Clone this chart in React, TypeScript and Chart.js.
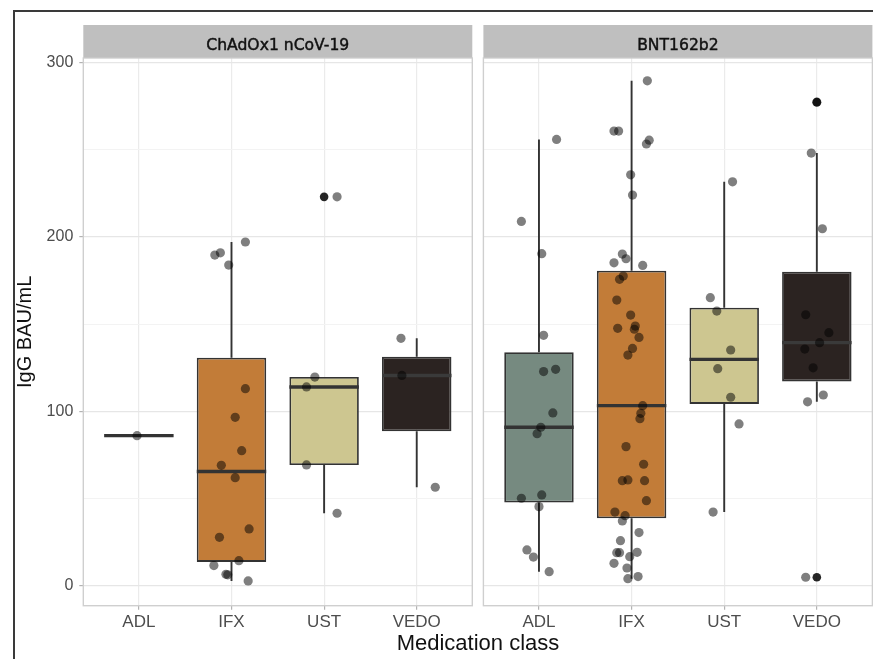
import React, { useEffect, useRef } from "react";
import { Chart, registerables } from "chart.js";

Chart.register(...registerables);

// ---------- data ----------
const categories = ["ADL", "IFX", "UST", "VEDO"];
const panelTitles = ["ChAdOx1 nCoV-19", "BNT162b2"];
const boxColors = ["#768a80", "#c27c38", "#cdc690", "#2b2321"];
const yTickValues = [0, 50, 100, 150, 200, 250, 300];
const yMin = -11.5;
const yMax = 302.5;
const yTitle = "IgG BAU/mL";
const xTitle = "Medication class";

// ChAdOx1 nCoV-19 – box statistics (ADL, IFX, UST, VEDO)
const chadQ1 = [86, 13.6, 69.2, 88.5];
const chadMedian = [86, 65.4, 113.9, 120.5];
const chadQ3 = [86, 130.7, 119.6, 131.2];
const chadLow = [86, 2.7, 41.5, 56.4];
const chadHigh = [86, 197, 119.6, 141.8];
const chadOutlierCat = [2];
const chadOutlierVal = [222.9];

// ChAdOx1 nCoV-19 – individual values and jitter offsets
const chadADL = [86];
const chadADLJit = [-0.02];
const chadIFX = [189.5, 190.8, 183.8, 197, 112.9, 96.5, 77.4, 69, 61.9, 32.5, 27.7, 14.3, 11.5, 6.5, 6.2, 2.7];
const chadIFXJit = [-0.18, -0.12, -0.03, 0.15, 0.15, 0.04, 0.11, -0.11, 0.04, 0.19, -0.13, 0.08, -0.19, -0.06, -0.04, 0.18];
const chadUST = [119.6, 113.9, 69.2, 41.5, 222.9];
const chadUSTJit = [-0.1, -0.19, -0.19, 0.14, 0.14];
const chadVEDO = [141.8, 120.5, 56.4];
const chadVEDOJit = [-0.17, -0.16, 0.2];

// BNT162b2 – box statistics
const bntQ1 = [47.7, 38.6, 104.2, 117.1];
const bntMedian = [90.8, 103.2, 129.7, 139.3];
const bntQ3 = [133.8, 180.5, 159.3, 180.0];
const bntLow = [8.0, 4.0, 42.2, 105.4];
const bntHigh = [255.8, 289.4, 231.5, 248.0];
const bntOutlierCat = [3, 3];
const bntOutlierVal = [277.2, 4.8];

// BNT162b2 – individual values and jitter offsets
const bntADL = [255.8, 208.8, 190.3, 143.5, 122.7, 124, 99, 90.8, 87.1, 50.1, 52, 45.3, 20.5, 16.4, 8];
const bntADLJit = [0.19, -0.19, 0.03, 0.05, 0.05, 0.18, 0.15, 0.02, -0.02, -0.19, 0.03, 0.0, -0.13, -0.06, 0.11];
const bntIFX = [289.4, 260.6, 260.6, 255.4, 253.2, 235.5, 223.9, 190.1, 187.4, 185.1, 183.6, 177.5, 175.6, 163.7, 155.1, 148.8, 147, 147.5, 142.3, 136, 132.2, 103.2, 98.8, 95.7, 79.7, 69.6, 60.2, 60.6, 60.2, 48.7, 42.2, 40.1, 37.1, 30.4, 25.8, 18.9, 18.9, 19.1, 16.6, 12.8, 10.1, 4.0, 5.2];
const bntIFXJit = [0.17, -0.19, -0.14, 0.19, 0.16, -0.01, 0.01, -0.1, -0.06, -0.19, 0.12, -0.09, -0.13, -0.16, -0.01, 0.04, 0.03, -0.15, 0.08, 0.01, -0.04, 0.12, 0.1, 0.09, -0.06, 0.13, -0.1, -0.04, 0.14, 0.16, -0.18, -0.07, -0.1, 0.08, -0.12, -0.16, -0.13, 0.06, -0.02, -0.19, -0.05, -0.04, 0.07];
const bntUST = [231.5, 165.1, 157.4, 135.1, 124.4, 108, 92.7, 42.2];
const bntUSTJit = [0.09, -0.15, -0.08, 0.07, -0.07, 0.07, 0.16, -0.12];
const bntVEDO = [277.2, 248, 204.6, 155.3, 145, 139.3, 135.6, 124.9, 109.3, 105.4, 4.8];
const bntVEDOJit = [0.0, -0.06, 0.06, -0.12, 0.13, 0.03, -0.13, -0.04, 0.07, -0.1, -0.12];

// ---------- helpers ----------
type Panel = {
  title: string;
  q1: number[];
  median: number[];
  q3: number[];
  low: number[];
  high: number[];
  outCat: number[];
  outVal: number[];
  groups: { values: number[]; jitter: number[] }[];
};

const panels: Panel[] = [
  {
    title: panelTitles[0],
    q1: chadQ1, median: chadMedian, q3: chadQ3, low: chadLow, high: chadHigh,
    outCat: chadOutlierCat, outVal: chadOutlierVal,
    groups: [
      { values: chadADL, jitter: chadADLJit },
      { values: chadIFX, jitter: chadIFXJit },
      { values: chadUST, jitter: chadUSTJit },
      { values: chadVEDO, jitter: chadVEDOJit },
    ],
  },
  {
    title: panelTitles[1],
    q1: bntQ1, median: bntMedian, q3: bntQ3, low: bntLow, high: bntHigh,
    outCat: bntOutlierCat, outVal: bntOutlierVal,
    groups: [
      { values: bntADL, jitter: bntADLJit },
      { values: bntIFX, jitter: bntIFXJit },
      { values: bntUST, jitter: bntUSTJit },
      { values: bntVEDO, jitter: bntVEDOJit },
    ],
  },
];

const TICK_FONT = "'Liberation Sans', Arial, sans-serif";
const STRIP_TOP = 25;
const STRIP_BOTTOM = 57.7;
const LINE = "#333333";

function makeConfig(p: Panel, isLeft: boolean, canvasW: number, canvasH: number) {
  const jitterData: { x: number; y: number }[] = [];
  p.groups.forEach((g, ci) => {
    g.values.forEach((v, k) => jitterData.push({ x: ci + 1 + g.jitter[k], y: v }));
  });
  const outData = p.outVal.map((v, k) => ({ x: p.outCat[k] + 1, y: v }));
  const boxData = categories.map((_, i) => ({ x: i + 1, y: [p.q1[i], p.q3[i]] }));

  const plugin = {
    id: "boxExtras",
    beforeDatasetsDraw(chart: any) {
      const { ctx, chartArea } = chart;
      const xs = chart.scales.x;
      const ys = chart.scales.y;
      ctx.save();
      ctx.beginPath();
      ctx.rect(chartArea.left, chartArea.top, chartArea.right - chartArea.left, chartArea.bottom - chartArea.top);
      ctx.clip();
      ctx.strokeStyle = LINE;
      ctx.lineWidth = 1.9;
      categories.forEach((_, i) => {
        const x = xs.getPixelForValue(i + 1);
        ctx.beginPath();
        ctx.moveTo(x, ys.getPixelForValue(p.q3[i]));
        ctx.lineTo(x, ys.getPixelForValue(p.high[i]));
        ctx.moveTo(x, ys.getPixelForValue(p.q1[i]));
        ctx.lineTo(x, ys.getPixelForValue(p.low[i]));
        ctx.stroke();
      });
      ctx.restore();
    },
    afterDatasetDraw(chart: any, args: any) {
      if (args.meta.type !== "bar") return;
      const { ctx } = chart;
      const ys = chart.scales.y;
      ctx.save();
      ctx.lineWidth = 3.4;
      ctx.lineCap = "butt";
      args.meta.data.forEach((el: any, i: number) => {
        const { x, width } = el.getProps(["x", "width"], true);
        const y = ys.getPixelForValue(p.median[i]);
        ctx.strokeStyle = i === 3 ? "#3a3a3a" : LINE;
        ctx.beginPath();
        ctx.moveTo(x - width / 2, y);
        ctx.lineTo(x + width / 2, y);
        ctx.stroke();
      });
      ctx.restore();
    },
    afterDraw(chart: any) {
      const { ctx, chartArea } = chart;
      ctx.save();
      // panel border
      ctx.strokeStyle = "#cfcfcf";
      ctx.lineWidth = 1.4;
      ctx.strokeRect(chartArea.left, chartArea.top, chartArea.right - chartArea.left, chartArea.bottom - chartArea.top);
      // strip
      ctx.fillStyle = "#bfbfbf";
      ctx.fillRect(chartArea.left, STRIP_TOP, chartArea.right - chartArea.left, STRIP_BOTTOM - STRIP_TOP);
      ctx.fillStyle = "#111111";
      ctx.strokeStyle = "#111111";
      ctx.lineWidth = 0.45;
      ctx.font = "15.6px 'DejaVu Sans', 'Open Sans', sans-serif";
      ctx.textAlign = "center";
      ctx.textBaseline = "alphabetic";
      const cx = (chartArea.left + chartArea.right) / 2;
      ctx.fillText(p.title, cx, 50.3);
      ctx.strokeText(p.title, cx, 50.3);
      ctx.restore();
    },
  };

  // canvas-relative panel edges
  const areaLeft = isLeft ? 83.3 : 5.4;
  const areaRight = isLeft ? 472.3 : 394.4;
  const padRight = canvasW - areaRight;
  const xAxisHeight = canvasH - 605.7;

  return {
    type: "bar",
    data: {
      datasets: [
        {
          type: "scatter",
          label: "values",
          data: jitterData,
          backgroundColor: "rgba(0,0,0,0.5)",
          borderWidth: 0,
          pointRadius: 4.6,
          order: 0,
        },
        {
          type: "scatter",
          label: "outliers",
          data: outData,
          backgroundColor: "rgba(0,0,0,0.85)",
          borderWidth: 0,
          pointRadius: 4.3,
          order: 1,
        },
        {
          type: "bar",
          label: "boxes",
          data: boxData,
          backgroundColor: boxColors,
          borderColor: LINE,
          borderWidth: 1.8,
          borderSkipped: false,
          categoryPercentage: 0.75,
          barPercentage: 1,
          order: 2,
        },
      ],
    },
    options: {
      animation: false,
      responsive: false,
      maintainAspectRatio: false,
      devicePixelRatio: 1,
      events: [],
      layout: { padding: { left: 0, right: padRight, top: STRIP_BOTTOM + 0.3, bottom: 0 } },
      plugins: { legend: { display: false }, tooltip: { enabled: false } },
      scales: {
        x: {
          type: "linear",
          min: 0.4,
          max: 4.6,
          offset: false,
          afterBuildTicks: (s: any) => {
            s.ticks = categories.map((_, i) => ({ value: i + 1 }));
          },
          afterFit: (s: any) => {
            s.height = xAxisHeight;
          },
          grid: {
            offset: false,
            color: "#ebebeb",
            lineWidth: 1.2,
            tickColor: "#b3b3b3",
            tickLength: 4,
            drawTicks: true,
          },
          border: { display: false },
          ticks: {
            autoSkip: false,
            maxRotation: 0,
            padding: 2,
            color: "#4d4d4d",
            font: { family: TICK_FONT, size: 17 },
            callback: (v: any) => categories[Math.round(v) - 1] ?? "",
          },
        },
        y: {
          type: "linear",
          min: yMin,
          max: yMax,
          afterBuildTicks: (s: any) => {
            s.ticks = yTickValues.map((v) => ({ value: v }));
          },
          afterFit: (s: any) => {
            s.width = areaLeft;
          },
          grid: {
            color: (c: any) => (c.tick && c.tick.value % 100 === 0 ? "#e6e6e6" : "#f3f3f3"),
            lineWidth: (c: any) => (c.tick && c.tick.value % 100 === 0 ? 1.2 : 1),
            tickColor: (c: any) => (c.tick && c.tick.value % 100 === 0 ? "#b3b3b3" : "rgba(0,0,0,0)"),
            tickLength: 4,
            drawTicks: isLeft,
          },
          border: { display: false },
          title: {
            display: isLeft,
            text: yTitle,
            color: "#111111",
            font: { family: TICK_FONT, size: 20 },
            padding: { top: 13, bottom: 0 },
          },
          ticks: {
            display: isLeft,
            autoSkip: false,
            padding: 6,
            color: "#4d4d4d",
            font: { family: TICK_FONT, size: 16 },
            callback: (v: any) => (v % 100 === 0 ? String(v) : ""),
          },
        },
      },
    },
    plugins: [plugin],
  };
}

function PanelChart({ panel, isLeft, left, width, height }: { panel: Panel; isLeft: boolean; left: number; width: number; height: number }) {
  const ref = useRef<HTMLCanvasElement | null>(null);
  useEffect(() => {
    if (!ref.current) return;
    const chart = new Chart(ref.current, makeConfig(panel, isLeft, width, height) as any);
    return () => chart.destroy();
  }, [panel, isLeft, width, height]);
  return (
    <canvas
      ref={ref}
      width={width}
      height={height}
      style={{ position: "absolute", left, top: 0, width, height }}
    />
  );
}

export default function App() {
  const W = 873;
  const H = 659;
  return (
    <div
      style={{
        position: "fixed",
        left: 0,
        top: 0,
        width: W,
        height: H,
        overflow: "hidden",
        background: "#ffffff",
      }}
    >
      <div
        style={{
          position: "absolute",
          left: 13,
          top: 10,
          width: 900,
          height: 700,
          borderTop: "2px solid #3a3a3a",
          borderLeft: "2px solid #3a3a3a",
        }}
      />
      <PanelChart panel={panels[0]} isLeft={true} left={0} width={478} height={H} />
      <PanelChart panel={panels[1]} isLeft={false} left={478} width={420} height={H} />
      <div
        style={{
          position: "absolute",
          left: 278,
          top: 630,
          width: 400,
          textAlign: "center",
          fontFamily: TICK_FONT,
          fontSize: 22,
          lineHeight: "26px",
          color: "#111111",
        }}
      >
        {xTitle}
      </div>
    </div>
  );
}
